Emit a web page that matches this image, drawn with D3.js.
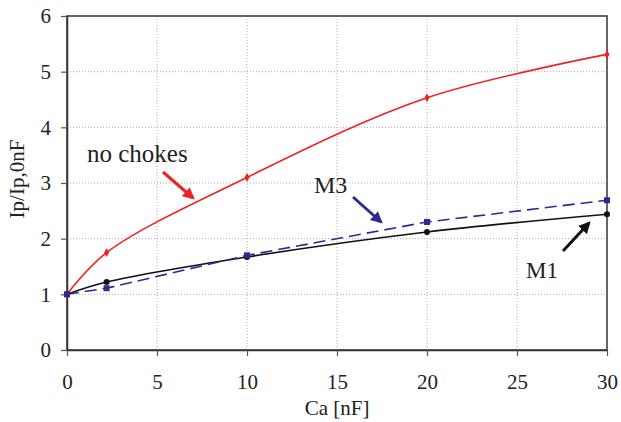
<!DOCTYPE html>
<html><head><meta charset="utf-8">
<script src="https://cdn.jsdelivr.net/npm/d3@7"></script>
<style>body{margin:0;background:#fff}svg{display:block}</style>
</head><body><div id="c"></div>
<script>
const xValues = [0, 2.2, 10, 20, 30];
const noChokes = [1.0, 1.75, 3.1, 4.53, 5.31];
const m1 = [1.0, 1.22, 1.67, 2.12, 2.44];
const m3 = [1.0, 1.11, 1.70, 2.30, 2.69];
const xTicks = [0, 5, 10, 15, 20, 25, 30];
const yTicks = [0, 1, 2, 3, 4, 5, 6];

const FONT = "'Liberation Serif','Times New Roman',serif";
const W = 621, H = 422;
const m = {left: 67, right: 14, top: 16, bottom: 72};
const svg = d3.select("#c").append("svg").attr("width", W).attr("height", H);
const x = d3.scaleLinear().domain([0, 30]).range([m.left, W - m.right]);
const y = d3.scaleLinear().domain([0, 6]).range([H - m.bottom, m.top]);

// grid
svg.append("g").selectAll("line").data(xTicks.slice(1, -1)).join("line")
  .attr("x1", d => x(d)).attr("x2", d => x(d)).attr("y1", y(0)).attr("y2", y(6))
  .attr("stroke", "#aaa").attr("stroke-width", 1).attr("stroke-dasharray", "1,2");
svg.append("g").selectAll("line").data(yTicks.slice(1, -1)).join("line")
  .attr("y1", d => y(d)).attr("y2", d => y(d)).attr("x1", x(0)).attr("x2", x(30))
  .attr("stroke", "#aaa").attr("stroke-width", 1).attr("stroke-dasharray", "1,2");

// frame
svg.append("rect").attr("x", x(0)).attr("y", y(6)).attr("width", x(30) - x(0)).attr("height", y(0) - y(6))
  .attr("fill", "none").attr("stroke", "#333").attr("stroke-width", 1.5);

// axes
const xAxis = svg.append("g").attr("transform", `translate(0,${y(0)})`)
  .call(d3.axisBottom(x).tickValues(xTicks).tickFormat(d3.format("d")).tickSize(6).tickPadding(18).tickSizeOuter(0));
const yAxis = svg.append("g").attr("transform", `translate(${x(0)},0)`)
  .call(d3.axisLeft(y).tickValues(yTicks).tickFormat(d3.format("d")).tickSize(6).tickPadding(10).tickSizeOuter(0));
[xAxis, yAxis].forEach(a => {
  a.attr("font-family", null).attr("font-size", null);
  a.select(".domain").attr("stroke", "#333").attr("stroke-width", 1.5);
  a.selectAll(".tick line").attr("stroke", "#555").attr("stroke-width", 1.2);
  a.selectAll(".tick text").style("font-size", "21px").style("font-family", FONT).attr("fill", "#222");
});

const txt = (sel) => sel.style("font-family", FONT).attr("fill", "#222");
svg.append("text").attr("x", (x(0) + x(30)) / 2).attr("y", 415).attr("text-anchor", "middle")
  .style("font-size", "21px").text("Ca [nF]").call(txt);
svg.append("text").attr("transform", `translate(24,179) rotate(-90)`).attr("text-anchor", "middle")
  .style("font-size", "21px").text("Ip/Ip,0nF").call(txt);

const pts = arr => xValues.map((v, i) => [v, arr[i]]);
const lineSmooth = d3.line().x(d => x(d[0])).y(d => y(d[1])).curve(d3.curveCatmullRom.alpha(0.5));
const lineLin = d3.line().x(d => x(d[0])).y(d => y(d[1]));

svg.append("path").attr("d", lineSmooth(pts(noChokes))).attr("fill", "none").attr("stroke", "#ee2222").attr("stroke-width", 1.6);
svg.append("path").attr("d", lineSmooth(pts(m1))).attr("fill", "none").attr("stroke", "#111").attr("stroke-width", 1.6);
svg.append("path").attr("d", lineLin(pts(m3))).attr("fill", "none").attr("stroke", "#2a2a90").attr("stroke-width", 1.6).attr("stroke-dasharray", "12,6");

svg.append("g").selectAll("path").data(pts(noChokes)).join("path")
  .attr("d", d3.symbol(d3.symbolDiamond, 22)).attr("transform", d => `translate(${x(d[0])},${y(d[1])})`).attr("fill", "#ee2222");
svg.append("g").selectAll("circle").data(pts(m1)).join("circle")
  .attr("cx", d => x(d[0])).attr("cy", d => y(d[1])).attr("r", 3).attr("fill", "#111");
svg.append("g").selectAll("rect").data(pts(m3)).join("rect")
  .attr("x", d => x(d[0]) - 3).attr("y", d => y(d[1]) - 3).attr("width", 6).attr("height", 6).attr("fill", "#2a2a90");

// annotations
svg.append("defs").html(`
<marker id="ar" viewBox="0 0 10 10" refX="8" refY="5" markerWidth="4" markerHeight="4" orient="auto"><path d="M0,0L10,5L0,10z" fill="#ee2222"/></marker>
<marker id="ab" viewBox="0 0 10 10" refX="8" refY="5" markerWidth="4" markerHeight="4" orient="auto"><path d="M0,0L10,5L0,10z" fill="#2a2a90"/></marker>
<marker id="ak" viewBox="0 0 10 10" refX="8" refY="5" markerWidth="4" markerHeight="4" orient="auto"><path d="M0,0L10,5L0,10z" fill="#111"/></marker>`);
svg.append("text").attr("x", 87).attr("y", 162).style("font-size", "25px").text("no chokes").call(txt);
svg.append("line").attr("x1", 163).attr("y1", 172).attr("x2", 193).attr("y2", 198).attr("stroke", "#ee2222").attr("stroke-width", 3).attr("marker-end", "url(#ar)");
svg.append("text").attr("x", 314).attr("y", 193).style("font-size", "24px").text("M3").call(txt);
svg.append("line").attr("x1", 353).attr("y1", 197).attr("x2", 381).attr("y2", 222).attr("stroke", "#2a2a90").attr("stroke-width", 3).attr("marker-end", "url(#ab)");
svg.append("text").attr("x", 526).attr("y", 278).style("font-size", "23px").text("M1").call(txt);
svg.append("line").attr("x1", 563).attr("y1", 251).attr("x2", 589).attr("y2", 223).attr("stroke", "#111").attr("stroke-width", 3).attr("marker-end", "url(#ak)");
</script></body></html>
